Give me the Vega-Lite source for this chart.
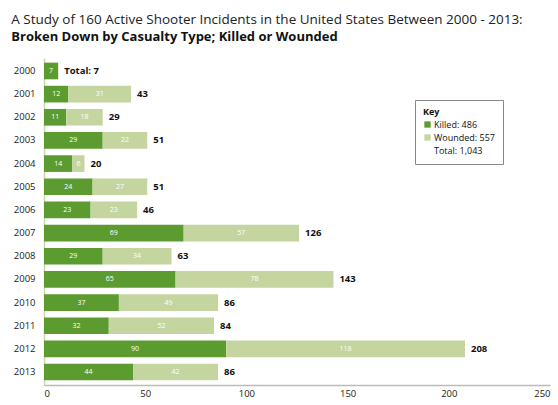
{
  "$schema": "https://vega.github.io/schema/vega-lite/v6.json",
  "autosize": {"type": "none"},
  "width": 506,
  "height": 327,
  "padding": {"left": 44, "top": 58, "right": 8, "bottom": 20},
  "background": "white",
  "title": {
    "text": "A Study of 160 Active Shooter Incidents in the United States Between 2000 - 2013:",
    "subtitle": "Broken Down by Casualty Type; Killed or Wounded",
    "anchor": "start",
    "frame": "bounds",
    "dx": -2,
    "font": "Open Sans",
    "fontSize": 13.5,
    "fontWeight": "normal",
    "color": "#222",
    "subtitleFont": "Open Sans",
    "subtitleFontSize": 13,
    "subtitleFontWeight": "bold",
    "subtitleColor": "#111",
    "subtitlePadding": 5,
    "offset": 14
  },
  "datasets": {
    "bars": [
      {"year": "2000", "type": "Killed", "value": 7},
      {"year": "2000", "type": "Wounded", "value": 0},
      {"year": "2001", "type": "Killed", "value": 12},
      {"year": "2001", "type": "Wounded", "value": 31},
      {"year": "2002", "type": "Killed", "value": 11},
      {"year": "2002", "type": "Wounded", "value": 18},
      {"year": "2003", "type": "Killed", "value": 29},
      {"year": "2003", "type": "Wounded", "value": 22},
      {"year": "2004", "type": "Killed", "value": 14},
      {"year": "2004", "type": "Wounded", "value": 6},
      {"year": "2005", "type": "Killed", "value": 24},
      {"year": "2005", "type": "Wounded", "value": 27},
      {"year": "2006", "type": "Killed", "value": 23},
      {"year": "2006", "type": "Wounded", "value": 23},
      {"year": "2007", "type": "Killed", "value": 69},
      {"year": "2007", "type": "Wounded", "value": 57},
      {"year": "2008", "type": "Killed", "value": 29},
      {"year": "2008", "type": "Wounded", "value": 34},
      {"year": "2009", "type": "Killed", "value": 65},
      {"year": "2009", "type": "Wounded", "value": 78},
      {"year": "2010", "type": "Killed", "value": 37},
      {"year": "2010", "type": "Wounded", "value": 49},
      {"year": "2011", "type": "Killed", "value": 32},
      {"year": "2011", "type": "Wounded", "value": 52},
      {"year": "2012", "type": "Killed", "value": 90},
      {"year": "2012", "type": "Wounded", "value": 118},
      {"year": "2013", "type": "Killed", "value": 44},
      {"year": "2013", "type": "Wounded", "value": 42}
    ],
    "totals": [
      {"year": "2000", "total": 7, "label": "Total: 7"},
      {"year": "2001", "total": 43, "label": "43"},
      {"year": "2002", "total": 29, "label": "29"},
      {"year": "2003", "total": 51, "label": "51"},
      {"year": "2004", "total": 20, "label": "20"},
      {"year": "2005", "total": 51, "label": "51"},
      {"year": "2006", "total": 46, "label": "46"},
      {"year": "2007", "total": 126, "label": "126"},
      {"year": "2008", "total": 63, "label": "63"},
      {"year": "2009", "total": 143, "label": "143"},
      {"year": "2010", "total": 86, "label": "86"},
      {"year": "2011", "total": 84, "label": "84"},
      {"year": "2012", "total": 208, "label": "208"},
      {"year": "2013", "total": 86, "label": "86"}
    ]
  },
  "encoding": {
    "y": {
      "field": "year",
      "type": "nominal",
      "sort": null,
      "title": null,
      "scale": {"paddingInner": 0.28, "paddingOuter": 0.2},
      "axis": {
        "labelFont": "Open Sans",
        "labelFontSize": 9.5,
        "labelColor": "#222",
        "ticks": false,
        "domainColor": "#c9d8a8",
        "domainWidth": 1.5,
        "labelPadding": 9
      }
    }
  },
  "layer": [
    {
      "data": {"name": "bars"},
      "mark": {"type": "bar"},
      "encoding": {
        "x": {
          "field": "value",
          "type": "quantitative",
          "stack": "zero",
          "scale": {"domain": [0, 250], "nice": false},
          "title": null,
          "axis": {
            "values": [0, 50, 100, 150, 200, 250],
            "grid": false,
            "ticks": false,
            "domainColor": "#bbbbbb",
            "domainWidth": 1.5,
            "labelFont": "Open Sans",
            "labelFontSize": 9.5,
            "labelColor": "#222",
            "labelPadding": 3
          }
        },
        "color": {
          "field": "type",
          "type": "nominal",
          "scale": {
            "domain": ["Killed", "Wounded", "Total"],
            "range": ["#5c9b2f", "#c4d59f", "transparent"]
          },
          "legend": {
            "title": "Key",
            "orient": "none",
            "legendX": 371,
            "legendY": 42,
            "strokeColor": "#888",
            "padding": 8,
            "titleFont": "Open Sans",
            "titleFontSize": 9,
            "titleFontWeight": "bold",
            "titleColor": "#111",
            "titlePadding": 3,
            "labelFont": "Open Sans",
            "labelFontSize": 9,
            "labelColor": "#111",
            "symbolType": "square",
            "symbolSize": 40,
            "symbolStrokeWidth": 0,
            "rowPadding": 3,
            "labelOffset": 2,
            "values": ["Killed", "Wounded", "Total"],
            "labelExpr": "datum.label == 'Killed' ? 'Killed: 486' : datum.label == 'Wounded' ? 'Wounded: 557' : 'Total: 1,043'"
          }
        },
        "order": {"field": "type", "sort": "ascending"}
      }
    },
    {
      "data": {"name": "bars"},
      "transform": [{"filter": "datum.value > 0"}],
      "mark": {"type": "text", "color": "white", "font": "Open Sans", "fontSize": 7},
      "encoding": {
        "x": {"field": "value", "type": "quantitative", "stack": "zero", "bandPosition": 0.5},
        "text": {"field": "value", "type": "quantitative"},
        "detail": {"field": "type"},
        "order": {"field": "type", "sort": "ascending"}
      }
    },
    {
      "data": {"name": "totals"},
      "mark": {"type": "text", "align": "left", "dx": 6, "font": "Open Sans", "fontSize": 9.5, "fontWeight": "bold", "color": "#111"},
      "encoding": {
        "x": {"field": "total", "type": "quantitative"},
        "text": {"field": "label"}
      }
    }
  ],
  "config": {"view": {"stroke": null}}
}
